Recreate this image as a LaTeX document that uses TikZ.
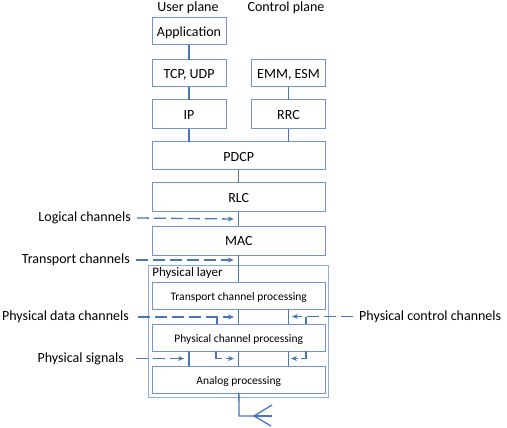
\documentclass[tikz,border=0pt]{standalone}
\usepackage{fontspec}
\setmainfont{Carlito}
\usepackage{xcolor}
\usetikzlibrary{positioning,arrows.meta,calc}
\definecolor{linkblue}{HTML}{4A75BE}
\definecolor{boxblue}{HTML}{7493CC}
\definecolor{layerblue}{HTML}{8FAADC}

\begin{document}
\begin{tikzpicture}[
    x=1pt, y=-1pt,
    node distance=13pt and 25.5pt,
    box/.style={
        rectangle, draw=boxblue, line width=1pt, outer sep=0pt,
        minimum height=27pt, minimum width=74pt, align=center,
        inner sep=0pt, text height=11pt, text depth=1pt,
        font=\fontsize{14}{16}\selectfont
    },
    tallbox/.style={box, minimum height=29pt},
    widebox/.style={box, minimum width=173.5pt, minimum height=28pt},
    procbox/.style={widebox, minimum height=27pt, text height=9pt, text depth=0pt,
        font=\fontsize{11.5}{13}\selectfont},
    layerbox/.style={rectangle, draw=layerblue, line width=1pt, outer sep=0pt,
        minimum width=180pt, minimum height=132pt},
    lbl/.style={inner sep=0pt, inner xsep=6pt, font=\fontsize{14}{16}\selectfont},
    link/.style={draw=linkblue, line width=1.3pt},
    tap/.style={draw=linkblue, line width=1.2pt},
    sig/.style={draw=linkblue, line width=1.3pt, dash pattern=on 12pt off 5pt,
        -{Stealth[length=6pt,width=5pt]}},
    sigtip/.style={draw=linkblue, line width=1.3pt,
        -{Stealth[length=6pt,width=5pt]}}
]
\useasboundingbox (0,0) rectangle (507,428);

% protocol stack
\node[box] (app) at (189,31.5) {Application};
\node[box, below=15pt of app] (tcp) {TCP, UDP};
\node[box, right=of tcp] (emm) {EMM, ESM};
\node[tallbox, below=of tcp] (ip) {IP};
\node[tallbox, below=of emm] (rrc) {RRC};
\node[widebox, below=of $(ip.south)!.5!(rrc.south)$] (pdcp) {PDCP};
\node[widebox, minimum height=29pt, below=of pdcp] (rlc) {RLC};
\node[widebox, minimum height=29pt, below=14pt of rlc] (mac) {MAC};

% physical layer
\node[layerbox, below=10pt of mac] (phy) {};
\node[procbox, below=17pt of phy.north] (trp) {Transport channel processing};
\node[procbox, below=15pt of trp] (pch) {Physical channel processing};
\node[procbox, below=15pt of pch] (ana) {Analog processing};
\node[lbl, font=\fontsize{13}{15}\selectfont, inner xsep=0pt] (phytxt) at (187.5,273) {Physical layer};

% headings
\node[lbl] (uplane) at (188,8) {User plane};
\node[lbl] (cplane) at (286,8) {Control plane};

% side labels
\node[lbl, anchor=east] (loglbl) at (137,218) {Logical channels};
\node[lbl, anchor=east] (trplbl) at (136,260) {Transport channels};
\node[lbl, anchor=east] (datlbl) at (135,317) {Physical data channels};
\node[lbl, anchor=east] (siglbl) at (130,358.5) {Physical signals};
\node[lbl, anchor=west] (ctllbl) at (353,316.5) {Physical control channels};

% links
\draw[link] (app) -- (tcp);
\draw[link] (tcp) -- (ip);
\draw[link] (ip) -- (ip |- pdcp.north);
\draw[link] (emm) -- (rrc);
\draw[link] (rrc) -- (rrc |- pdcp.north);
\draw[link] (pdcp) -- (rlc);
\draw[link] (rlc) -- (mac);
\draw[link] (mac) -- (trp);
\draw[link] (trp) -- (pch);
\draw[link] (pch) -- (ana);
\draw[link] (emm |- trp.south) -- (emm |- pch.north);
\draw[link] (emm |- pch.south) -- (emm |- ana.north);
\draw[link] (ip |- pch.south) -- (ip |- ana.north);

% antenna
\coordinate (feed) at (239,416);
\coordinate (apex) at (254,416);
\coordinate (tipa) at (272,405);
\coordinate (tipb) at (272,416);
\coordinate (tipc) at (271,426);
\draw[link] (ana) -- (feed) -- (apex);
\draw[link] (tipa) -- (apex) -- (tipc);
\draw[link] (apex) -- (tipb);

% channels
\draw[sig] (loglbl.east) -- ([xshift=-5pt]$(rlc.south)!.5!(mac.north)$);
\draw[sig] (trplbl.east) -- ([xshift=-5pt]$(mac.south)!.5!(phy.north)$);
\draw[sig] ([xshift=3pt]datlbl.east) -- (234,317);
\draw[sig] ([xshift=6pt]siglbl.east) -- (184,358.5);
\draw[sig] (ctllbl.west) -- (292,316.5);

% taps on the channels
\coordinate (datup) at (217,317);
\coordinate (ctlup) at (306,316.5);
\coordinate (datdn) at (216,358.5);
\coordinate (ctldn) at (306,358.5);
\draw[tap] (datup) -- (datup |- pch.north);
\draw[tap] (ctlup) -- (ctlup |- pch.north);
\draw[tap] (datdn |- pch.south) -- (datdn) -- (222,358.5);
\draw[sigtip] (226,358.5) -- (234,358.5);
\draw[tap] (ctldn |- pch.south) -- (ctldn) -- (301,358.5);
\draw[sigtip] (298,358.5) -- (291,358.5);
\end{tikzpicture}
\end{document}
